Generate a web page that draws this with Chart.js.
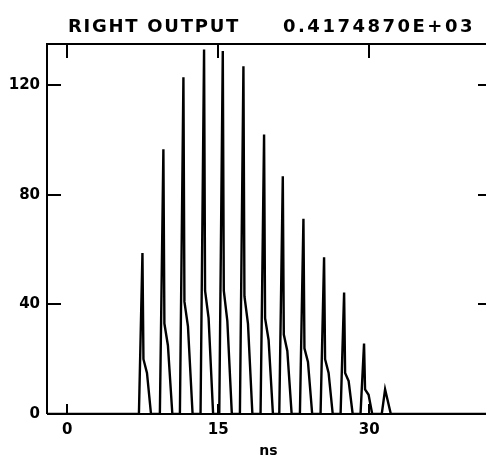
<!DOCTYPE html>
<html>
<head>
<meta charset="utf-8">
<script src="https://cdn.jsdelivr.net/npm/chart.js@4.4.1/dist/chart.umd.min.js"></script>
<style>
  html, body { margin: 0; padding: 0; background: #fff; overflow: hidden; }
  #wrap { width: 500px; height: 464px; }
</style>
</head>
<body>
<div id="wrap"><canvas id="pulseChart" width="500" height="464"></canvas></div>
<script>
// title pieces
const titleLeft = 'RIGHT OUTPUT';
const titleRight = '0.4174870E+03';

// time axis (ns) and output signal
const times = [
  -2, 7.13, 7.48, 7.58, 7.93, 8.33,
  9.21, 9.56, 9.66, 10.01, 10.45,
  11.2, 11.55, 11.65, 12.0, 12.46,
  13.25, 13.6, 13.7, 14.05, 14.5,
  15.11, 15.46, 15.56, 15.91, 16.36,
  17.16, 17.51, 17.61, 17.96, 18.4,
  19.21, 19.56, 19.66, 20.01, 20.44,
  21.07, 21.42, 21.52, 21.87, 22.3,
  23.12, 23.47, 23.57, 23.92, 24.34,
  25.17, 25.52, 25.62, 25.97, 26.38,
  27.16, 27.51, 27.61, 27.96, 28.36,
  29.14, 29.49, 29.59, 29.94, 30.3,
  31.25, 31.58, 32.15, 42
];
const output = [
  0, 0, 58.7, 20, 15, 0,
  0, 96.6, 33, 25, 0,
  0, 122.9, 41, 32, 0,
  0, 133, 45, 35, 0,
  0, 132.4, 45, 34, 0,
  0, 126.9, 43, 33, 0,
  0, 102, 35, 27, 0,
  0, 86.7, 29, 23, 0,
  0, 71.2, 24, 19, 0,
  0, 57.2, 20, 15, 0,
  0, 44.3, 15, 12, 0,
  0, 25.7, 9, 7, 0,
  0, 9, 0, 0
];

// tick positions and labels
const xTicks = [0, 15, 30];
const yTicks = [0, 40, 80, 120];
const yTickLabels = ['0', '40', '80', '120'];

const points = times.map((t, i) => ({ x: t, y: output[i] }));

// frame, inward tick marks and the header text
const framePlugin = {
  id: 'frame',
  afterDraw(chart) {
    const { ctx, chartArea, scales } = chart;
    const { left, right, top, bottom } = chartArea;
    ctx.save();
    ctx.strokeStyle = '#000';
    ctx.lineWidth = 2;
    ctx.beginPath();
    ctx.moveTo(left, bottom); ctx.lineTo(left, top); ctx.lineTo(right, top);
    ctx.lineTo(right, bottom); ctx.lineTo(left, bottom);
    ctx.stroke();

    ctx.beginPath();
    yTicks.slice(1).forEach(v => {
      const py = Math.round(scales.y.getPixelForValue(v));
      ctx.moveTo(left, py); ctx.lineTo(left + 14, py);
      ctx.moveTo(right, py); ctx.lineTo(right - 12, py);
    });
    xTicks.forEach(v => {
      const px = Math.round(scales.x.getPixelForValue(v));
      ctx.moveTo(px, top); ctx.lineTo(px, top + 14);
      ctx.moveTo(px, bottom); ctx.lineTo(px, bottom - 10);
    });
    ctx.stroke();

    // header
    ctx.fillStyle = '#000';
    ctx.font = 'bold 18px "DejaVu Sans"';
    ctx.textBaseline = 'alphabetic';
    const drawSpread = (text, x, w) => {
      ctx.letterSpacing = '0px';
      const m = ctx.measureText(text).width;
      ctx.letterSpacing = ((w - m) / text.length) + 'px';
      ctx.fillText(text, x, 32);
    };
    drawSpread(titleLeft, 68, 172);
    drawSpread(titleRight, 283, 192);
    ctx.restore();
  }
};

new Chart(document.getElementById('pulseChart'), {
  type: 'scatter',
  data: {
    datasets: [{
      data: points,
      showLine: true,
      borderColor: '#000',
      borderWidth: 2.4,
      pointRadius: 0,
      tension: 0
    }]
  },
  options: {
    responsive: false,
    animation: false,
    layout: { padding: { top: 44, right: 10, left: 0, bottom: 0 } },
    plugins: { legend: { display: false }, tooltip: { enabled: false } },
    scales: {
      x: {
        type: 'linear',
        min: -2,
        max: 42,
        afterFit: s => { s.height = 50; },
        afterBuildTicks: s => { s.ticks = xTicks.map(v => ({ value: v })); },
        grid: { display: false, drawTicks: false },
        border: { display: false },
        ticks: {
          color: '#000',
          padding: 7,
          maxRotation: 0,
          font: { family: 'DejaVu Sans', size: 15, weight: 'bold' },
          callback: v => String(v)
        },
        title: {
          display: true,
          text: 'ns',
          color: '#000',
          padding: { top: 0, bottom: 4 },
          font: { family: 'DejaVu Sans', size: 14, weight: 'bold' }
        }
      },
      y: {
        min: 0,
        max: 135,
        afterFit: s => { s.width = 47; },
        afterBuildTicks: s => { s.ticks = yTicks.map(v => ({ value: v })); },
        grid: { display: false, drawTicks: false },
        border: { display: false },
        ticks: {
          color: '#000',
          padding: 7,
          font: { family: 'DejaVu Sans', size: 15, weight: 'bold' },
          callback: v => yTickLabels[yTicks.indexOf(v)]
        }
      }
    }
  },
  plugins: [framePlugin]
});
</script>
</body>
</html>
